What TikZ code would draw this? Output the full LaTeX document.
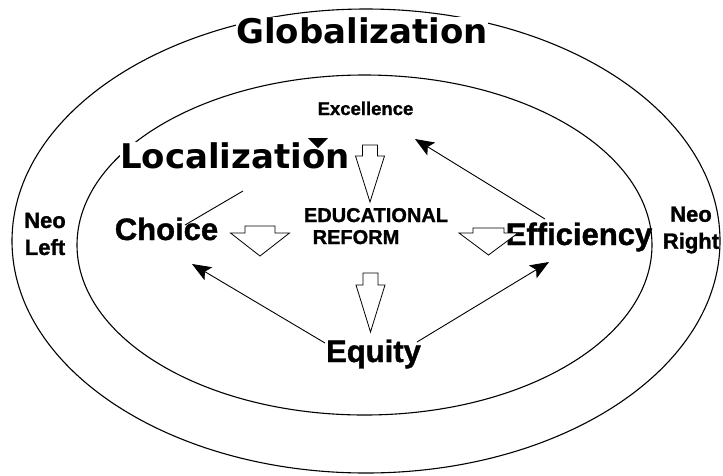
\documentclass[tikz,border=0pt]{standalone}
\usepackage{fontspec}
\setmainfont{Liberation Sans}[BoldFeatures={FakeBold=1.2}]
\newfontfamily\verd{DejaVu Sans}
\usetikzlibrary{arrows.meta}
\newcommand\dnarrow[6]{% cx, top, shoulder, stem half, head half, tip y
  \draw[blockarrow] (#1-#4,#2) -- (#1+#4,#2) -- (#1+#4,#3) -- (#1+#5,#3) -- (#1,#6) -- (#1-#5,#3) -- (#1-#4,#3) -- cycle;}
\begin{document}
\begin{tikzpicture}[x=1pt,y=-1pt,
  ring/.style={line width=1.1pt},
  big/.style={font=\verd\bfseries\fontsize{34}{40}\selectfont, inner sep=0pt, anchor=base},
  mid/.style={font=\bfseries\fontsize{31}{36}\selectfont, inner sep=0pt, anchor=base},
  small/.style={font=\bfseries\fontsize{20}{24}\selectfont, inner sep=0pt, anchor=base},
  side/.style={font=\bfseries\fontsize{22}{27}\selectfont, inner sep=0pt, align=center},
  link/.style={line width=0.9pt, -{Stealth[length=19pt,width=15pt,inset=4pt]}},
  plainlink/.style={line width=0.9pt},
  blockarrow/.style={draw, fill=white, line width=0.8pt, line join=miter}
]
\useasboundingbox (0,0) rectangle (723,475);
\fill[white] (0,0) rectangle (723,475);
\draw[ring] (366,241) ellipse [x radius=354pt, y radius=232pt];
\draw[ring] (364.5,245) ellipse [x radius=287.5pt, y radius=170pt];

\node[big, fill=white] (glob) at (362,43) {Globalization};
\node[big, fill=white] (loc) at (235,168) {Localization};
\node[font=\bfseries\fontsize{18.5}{22}\selectfont, inner sep=0pt, anchor=base] (exc) at (365.5,115) {Excellence};
\node[small] (edu) at (376,222) {EDUCATIONAL};
\node[small] (ref) at (356,244) {REFORM};
\node[mid] (cho) at (166.5,240) {Choice};
\node[mid] (eff) at (579,245) {Efficiency};
\node[mid] (equ) at (373.5,362) {Equity};
\node[side] (nl) at (45,234) {Neo\\Left};
\node[side] (nr) at (691,230) {Neo\\Right};

% block arrows
\dnarrow{370}{145}{156}{7.5}{14.5}{202}
\dnarrow{370.5}{273}{285}{7.5}{14.5}{332}
\dnarrow{260}{226}{233}{15}{29.5}{256}
\dnarrow{488.5}{228}{233}{15.5}{29.5}{255}

% thin connectors
\coordinate (effout) at (545,219);
\coordinate (excin) at (415,139);
\coordinate (equl) at (325,343);
\coordinate (choin) at (192,264);
\coordinate (equr) at (417,342);
\coordinate (effin) at (549,262);
\coordinate (choout) at (185,225);
\coordinate (locin) at (243,191);
\draw[link] (effout) -- (excin);
\draw[link] (equl) -- (choin);
\draw[link] (equr) -- (effin);
\draw[plainlink] (choout) -- (locin);
\fill (308,138) -- (328,138) -- (318,148) -- cycle;
\end{tikzpicture}
\end{document}
